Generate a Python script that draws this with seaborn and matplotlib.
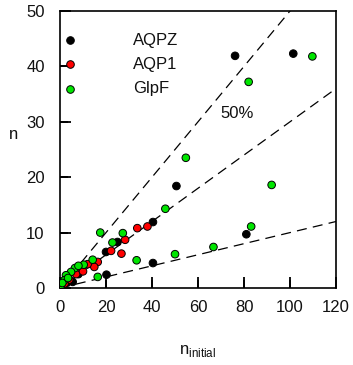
import matplotlib
matplotlib.use("Agg")
import matplotlib.pyplot as plt
import numpy as np
import pandas as pd
import seaborn as sns

# data
aqpz_x = [76.1, 101.4, 50.6, 40.4, 25.0, 20.0, 40.4, 81.0, 20.2, 5.5, 3.0, 8.0, 1.0]
aqpz_y = [41.9, 42.3, 18.4, 11.9, 8.3, 6.5, 4.5, 9.7, 2.4, 1.1, 1.0, 2.5, 0.4]

aqp1_x = [38.0, 33.6, 28.3, 22.2, 26.7, 16.4, 14.9, 12.0, 9.0, 7.0, 4.0, 2.0, 10.0]
aqp1_y = [11.1, 10.8, 8.7, 6.7, 6.2, 4.7, 3.8, 4.3, 3.4, 2.5, 1.5, 0.8, 3.0]

glpf_x = [109.7, 82.0, 54.7, 92.0, 45.8, 83.1, 66.7, 50.0, 33.3, 27.3, 17.5, 22.8,
          14.2, 16.4, 10.3, 6.5, 4.8, 2.6, 1.9, 0.3, 8.0, 1.0, 3.5]
glpf_y = [41.8, 37.2, 23.5, 18.6, 14.3, 11.1, 7.4, 6.1, 5.0, 9.9, 10.0, 8.2,
          5.1, 2.0, 4.2, 3.6, 2.9, 2.3, 1.4, 0.4, 4.0, 0.9, 1.8]

slopes = [0.5, 0.3, 0.1]
series = ["AQPZ", "AQP1", "GlpF"]
colors = ["black", "#ff0000", "#00e600"]
xticks = [0, 20, 40, 60, 80, 100, 120]
yticks = [0, 10, 20, 30, 40, 50]

df = pd.concat([
    pd.DataFrame({"x": aqpz_x, "y": aqpz_y, "s": "AQPZ"}),
    pd.DataFrame({"x": aqp1_x, "y": aqp1_y, "s": "AQP1"}),
    pd.DataFrame({"x": glpf_x, "y": glpf_y, "s": "GlpF"}),
])

sns.set_style("ticks")
plt.rcParams.update({
    "font.family": ["Liberation Sans", "DejaVu Sans"],
    "axes.axisbelow": False,
    "axes.edgecolor": "black",
    "axes.linewidth": 1.2,
    "text.color": "#111111", "axes.labelcolor": "#111111",
})

fig = plt.figure(figsize=(3.53, 3.65), dpi=100)
ax = fig.add_axes([0.17, 0.211, 0.782, 0.759])

xx = np.array([0, 130])
for k in slopes:
    ax.plot(xx, k * xx, color="black", lw=0.9, ls=(0, (8, 5)), zorder=1)

sns.scatterplot(data=df, x="x", y="y", hue="s", hue_order=series,
                palette=colors, s=30, edgecolor="black", linewidth=0.7,
                ax=ax, zorder=3, legend=False)

for name, c in zip(series, colors):
    ax.scatter([], [], s=30, color=c, edgecolor="black", linewidth=0.7, label=name)
ax.legend(frameon=False, loc="upper left", bbox_to_anchor=(0.0, 0.922),
          fontsize=12, handletextpad=3.2, labelspacing=0.55, borderpad=0,
          borderaxespad=0, handlelength=1.2)

ax.text(77, 31.5, "50%", fontsize=12, ha="center", va="center")

ax.set_xlim(0, 120)
ax.set_ylim(0, 50)
ax.set_xticks(xticks)
ax.set_yticks(yticks)
ax.tick_params(which="major", bottom=True, left=True, top=False, right=False,
               direction="in", length=8, width=1.3, color="black",
               labelcolor="#111111", labelsize=12)
ax.tick_params(axis="x", pad=9)
ax.tick_params(axis="y", pad=11)
# inward tick marks drawn as plain lines too
for xt in xticks[1:-1]:
    ax.plot([xt, xt], [0, 1.5], color="black", lw=1.3, solid_capstyle="butt",
            clip_on=False, zorder=4)
for yt in yticks[1:-1]:
    ax.plot([0, 3.3], [yt, yt], color="black", lw=1.3, solid_capstyle="butt",
            clip_on=False, zorder=4)
for sp in ax.spines.values():
    sp.set_visible(True)

ax.set_xlabel("n$_{\\mathregular{initial}}$", fontsize=12, labelpad=20)
ax.set_ylabel("n", fontsize=12, rotation=0)
ax.yaxis.set_label_coords(-0.17, 0.527)

fig.savefig("out.png", dpi=100)
